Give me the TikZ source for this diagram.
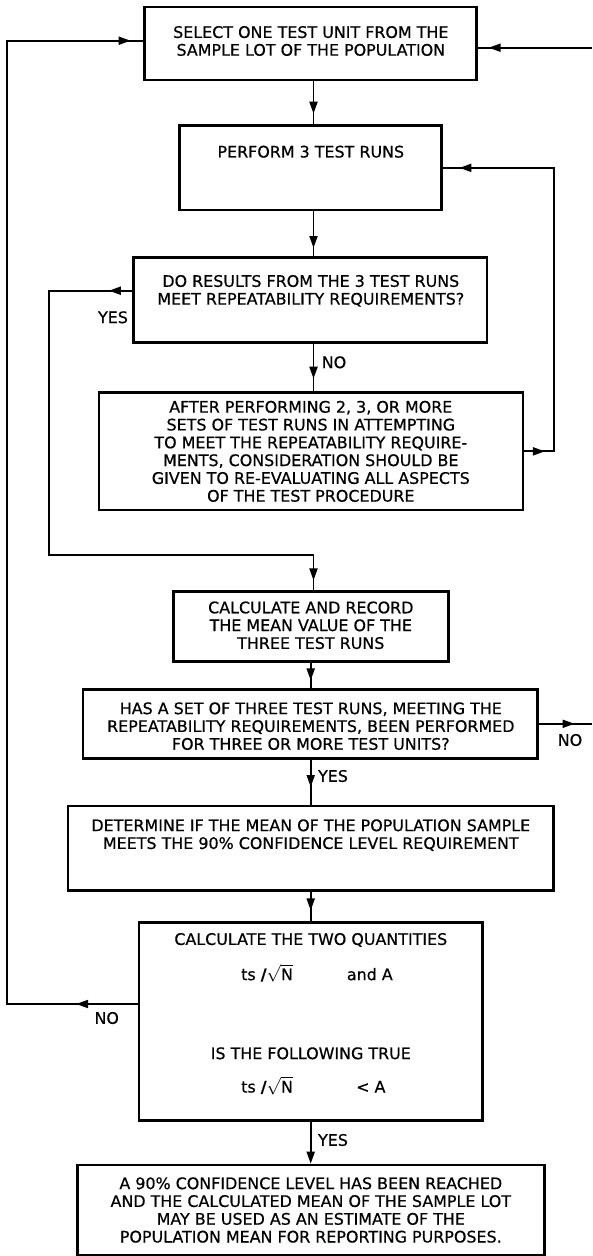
\documentclass[tikz,border=0pt]{standalone}
\usepackage{fontspec}
\setmainfont{DejaVu Sans}[FakeBold=0.6]
\usetikzlibrary{arrows.meta,decorations.markings}
\tikzset{
  tri/.tip={Triangle[length=12pt,width=8pt]},
  box/.style={draw, line width=2.6pt, inner sep=0pt},
  txt/.style={align=center, inner sep=0pt, font=\fontsize{15.9}{17.8}\selectfont},
  lbl/.style={inner sep=0pt, font=\fontsize{15.9}{17.8}\selectfont},
  conn/.style={draw, line width=1.9pt},
  tipat/.style={postaction={decorate, decoration={markings, mark=at position #1 with {\arrow{tri}}}}}
}
\begin{document}
\begin{tikzpicture}[x=1pt, y=-1pt]
\useasboundingbox (0,0) rectangle (592,1256);
% boxes
\node[box, minimum width=332.2pt, minimum height=73pt]   (B1) at (310.6,43.5) {};
\node[box, minimum width=261.8pt, minimum height=84.3pt] (B2) at (310.6,167.85) {};
\node[box, minimum width=353.5pt, minimum height=84.9pt] (B3) at (310.25,299.75) {};
\node[box, minimum width=424.1pt, minimum height=117.3pt] (B4) at (310.95,451.35) {};
\node[box, minimum width=274.5pt, minimum height=70pt]   (B5) at (310.95,626.7) {};
\node[box, minimum width=454.6pt, minimum height=69pt]   (B6) at (310.4,723.8) {};
\node[box, minimum width=485.5pt, minimum height=84.7pt] (B7) at (310.75,848.35) {};
\node[box, minimum width=343.5pt, minimum height=198.4pt] (B8) at (310.75,1021.5) {};
\node[box, minimum width=467pt, minimum height=90pt]     (B9) at (310.9,1210) {};
% texts
\node[txt] (T1) at (310.8,41) {SELECT ONE TEST UNIT FROM THE\\SAMPLE LOT OF THE POPULATION};
\node[txt] (T2) at (310.8,151.7) {PERFORM 3 TEST RUNS};
\node[txt] (T3) at (310.8,290.85) {DO RESULTS FROM THE 3 TEST RUNS\\MEET REPEATABILITY REQUIREMENTS?};
\node[txt] (T4) at (310.8,451.35) {AFTER PERFORMING 2, 3, OR MORE\\SETS OF TEST RUNS IN ATTEMPTING\\TO MEET THE REPEATABILITY REQUIRE-\\MENTS, CONSIDERATION SHOULD BE\\GIVEN TO RE-EVALUATING ALL ASPECTS\\OF THE TEST PROCEDURE};
\node[txt] (T5) at (310.8,625.3) {CALCULATE AND RECORD\\THE MEAN VALUE OF THE\\THREE TEST RUNS};
\node[txt] (T6) at (310.8,726.15) {HAS A SET OF THREE TEST RUNS, MEETING THE\\REPEATABILITY REQUIREMENTS, BEEN PERFORMED\\FOR THREE OR MORE TEST UNITS?};
\node[txt] (T7) at (310.8,835.15) {DETERMINE IF THE MEAN OF THE POPULATION SAMPLE\\MEETS THE 90\% CONFIDENCE LEVEL REQUIREMENT};
\node[txt] (T8a) at (310.8,940) {CALCULATE THE TWO QUANTITIES};
\node[lbl, anchor=base west] (T8b) at (241,980.1) {ts \textbf{/}$\sqrt{\mbox{N}}$};
\node[lbl, anchor=base west] (T8c) at (346.7,980.1) {and A};
\node[txt] (T8d) at (310.8,1053.3) {IS THE FOLLOWING TRUE};
\node[lbl, anchor=base west] (T8e) at (241,1092.5) {ts \textbf{/}$\sqrt{\mbox{N}}$};
\node[lbl, anchor=base west] (T8f) at (356,1092.5) {< A};
\node[txt] (T9) at (310.8,1210) {A 90\% CONFIDENCE LEVEL HAS BEEN REACHED\\AND THE CALCULATED MEAN OF THE SAMPLE LOT\\MAY BE USED AS AN ESTIMATE OF THE\\POPULATION MEAN FOR REPORTING PURPOSES.};
% labels
\node[lbl] (yes1) at (113,317.3) {YES};
\node[lbl] (no1) at (334,362.3) {NO};
\node[lbl] (no2) at (570,740) {NO};
\node[lbl] (yes2) at (333,776) {YES};
\node[lbl] (no3) at (106.7,1018) {NO};
\node[lbl] (yes3) at (333,1140) {YES};
% helper coordinates
\coordinate (ax) at (313.5,0);
\coordinate (bx) at (310.7,0);
\coordinate (L1) at (7.3,1004);
\coordinate (L2) at (7.3,40.7);
\coordinate (R1) at (592,723.3);
\coordinate (R2) at (592,47.7);
\coordinate (R3) at (554.3,0);
\coordinate (Y1) at (49.3,290.7);
\coordinate (Y2) at (49.3,555);
% connectors
\draw[conn, tipat=-10.7pt] (B1.south -| ax) -- (B2.north -| ax);
\draw[conn, tipat=-8pt] (B2.south -| ax) -- (B3.north -| ax);
\draw[conn, tipat=-12.7pt] (B3.south -| ax) -- (B4.north -| ax);
\draw[conn, tipat=-7.6pt] (B5.south -| bx) -- (B6.north -| bx);
\draw[conn, tipat=-17.7pt] (B6.south -| bx) -- (B7.north -| bx);
\draw[conn, tipat=-10.6pt] (B7.south -| bx) -- (B8.north -| bx);
\draw[conn, -{tri}] (B8.south -| bx) -- (B9.north -| bx);
\draw[conn, tipat=61.6pt, tipat=-12.6pt] (B8.west |- L1) -- (L1) -- (L2) -- (B1.west |- L2);
\draw[conn, tipat=35.6pt] (B6.east) -- (B6.east -| R1);
\draw[conn, tipat=-10.6pt] (R2) -- (B1.east |- R2);
\draw[conn, tipat=20.6pt, tipat=-16.6pt] (B4.east) -- (B4.east -| R3) -- (B2.east -| R3) -- (B2.east);
\draw[conn, tipat=23.3pt, tipat=-10pt] (B3.west |- Y1) -- (Y1) -- (Y2) -- (Y2 -| ax) -- (B5.north -| ax);
\end{tikzpicture}
\end{document}
